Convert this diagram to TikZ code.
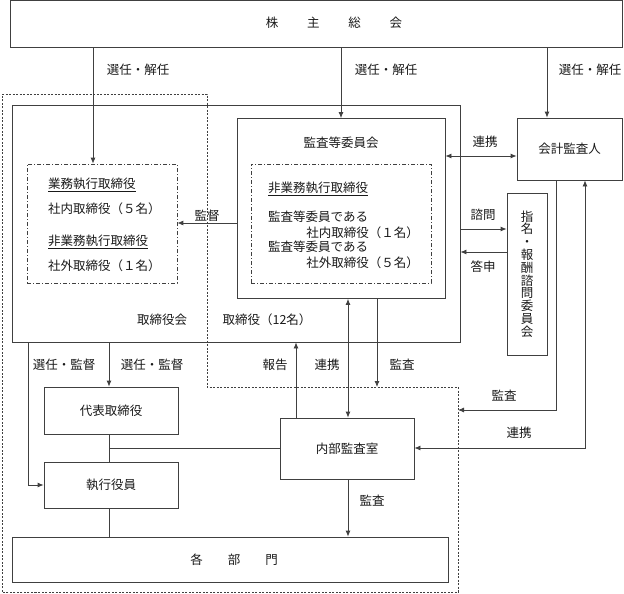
\documentclass[tikz,border=0pt]{standalone}
\usepackage{fontspec}
\setmainfont{Noto Sans CJK JP}
\usetikzlibrary{arrows.meta}
\tikzset{
  ln/.style={line width=0.8pt, draw=black!75},
  box/.style={ln, rectangle, inner sep=0pt, fill=none},
  dbox/.style={line width=0.7pt, draw=black!75, dash pattern=on 4pt off 2pt on 1pt off 2pt, rectangle, inner sep=0pt},
  outer/.style={line width=0.8pt, draw=black!75, dash pattern=on 2pt off 1.5pt},
  arr/.style={ln, -{Latex[length=6pt,width=5pt]}},
  darr/.style={ln, {Latex[length=6pt,width=5pt]}-{Latex[length=6pt,width=5pt]}},
  txt/.style={font=\fontsize{12.5}{14}\selectfont, inner sep=0pt, text=black!90},
  lbl/.style={txt}
}
\begin{document}
\begin{tikzpicture}[x=1pt,y=-1pt]
\useasboundingbox (0,0) rectangle (624,594);
% outer dashed region
\draw[outer] (2,94) -- (207,94) -- (207,387) -- (458,387) -- (458,592) -- (2,592) -- cycle;

% boxes
\node[box, minimum width=612pt, minimum height=47pt] (gm) at (316,23.5) {};
\node[txt] (gmt) at (334,23) {株\hspace{2.3em}主\hspace{2.3em}総\hspace{2.3em}会};
\node[box, minimum width=448pt, minimum height=237pt] (board) at (236,223.5) {};
\node[box, minimum width=208pt, minimum height=180pt] (acb) at (341,208.5) {};
\node[txt] (acbt) at (341,143) {監査等委員会};
\node[dbox, minimum width=180pt, minimum height=119pt] (nedir) at (341,223.5) {};
\node[dbox, minimum width=150pt, minimum height=119pt] (exec) at (102,223.5) {};

\node[txt, anchor=west] (e1) at (48,185) {\underline{業務執行取締役}};
\node[txt, anchor=west] (e2) at (48,209) {社内取締役（５名）};
\node[txt, anchor=west] (e3) at (48,242) {\underline{非業務執行取締役}};
\node[txt, anchor=west] (e4) at (48,266) {社外取締役（１名）};

\node[txt, anchor=west] (n1) at (268,189) {\underline{非業務執行取締役}};
\node[txt, anchor=west] (n2) at (268,217) {監査等委員である};
\node[txt, anchor=east] (n3) at (419,233) {社内取締役（１名）};
\node[txt, anchor=west] (n4) at (268,247) {監査等委員である};
\node[txt, anchor=east] (n5) at (419,263) {社外取締役（５名）};

\node[txt] (bl1) at (162,320) {取締役会};
\node[txt] (bl2) at (267,320) {取締役（12名）};

\node[box, minimum width=105pt, minimum height=62pt] (ext) at (569.5,149) {};
\node[txt] at (ext) {会計監査人};
\node[box, minimum width=40pt, minimum height=162pt] (nom) at (527,274) {};
\node[txt, align=center, font=\fontsize{12.5}{12.8}\selectfont] at (nom) {指\\名\\・\\報\\酬\\諮\\問\\委\\員\\会};

\node[box, minimum width=134pt, minimum height=47pt] (rep) at (111,410.5) {};
\node[txt] at (rep) {代表取締役};
\node[box, minimum width=134pt, minimum height=46pt] (exe) at (111,485) {};
\node[txt] at (exe) {執行役員};
\node[box, minimum width=134pt, minimum height=61pt] (ia) at (347,448.5) {};
\node[txt] at (ia) {内部監査室};
\node[box, minimum width=436pt, minimum height=45pt] (dept) at (230,559.5) {};
\node[txt] (deptt) at (234,559.5) {各\hspace{2em}部\hspace{2em}門};

% helper coordinates
\coordinate (x93) at (93,0);
\coordinate (x547) at (547,0);
\coordinate (x556) at (556,0);
\coordinate (x585) at (585,0);
\coordinate (x296) at (296,0);
\coordinate (x348) at (348,0);
\coordinate (x377) at (377,0);
\coordinate (x109) at (109,0);
\coordinate (x28) at (28,0);
\coordinate (y156) at (0,156);
\coordinate (y223) at (0,223);
\coordinate (y229) at (0,229);
\coordinate (y252) at (0,252);
\coordinate (y448) at (0,448);
\coordinate (y485) at (0,485);
\coordinate (audend) at (458,410);
\coordinate (iaaud) at (377,387);

% connectors
\draw[arr] (x93 |- gm.south) -- (x93 |- exec.north);
\draw[arr] (gm.south -| acb.north) -- (acb.north);
\draw[arr] (x547 |- gm.south) -- (x547 |- ext.north);
\draw[darr] (acb.east |- y156) -- (ext.west |- y156);
\draw[arr] (acb.west |- y223) -- (exec.east |- y223);
\draw[arr] (board.east |- y229) -- (nom.west |- y229);
\draw[arr] (nom.west |- y252) -- (board.east |- y252);
\draw[arr] (x556 |- ext.south) |- (audend);
\draw[darr] (ia.east |- y448) -| (x585 |- ext.south);
\draw[arr] (x296 |- ia.north) -- (x296 |- board.south);
\draw[darr] (x348 |- acb.south) -- (x348 |- ia.north);
\draw[arr] (x377 |- acb.south) -- (iaaud);
\draw[arr] (x348 |- ia.south) -- (x348 |- dept.north);
\draw[arr] (x109 |- board.south) -- (x109 |- rep.north);
\draw[arr] (x28 |- board.south) |- (exe.west |- y485);
\draw[ln] (x109 |- rep.south) -- (x109 |- exe.north);
\draw[ln] (x109 |- y448) -- (ia.west |- y448);
\draw[ln] (x109 |- exe.south) -- (x109 |- dept.north);

% labels
\node[lbl] at (138,70) {選任・解任};
\node[lbl] at (386,70) {選任・解任};
\node[lbl] at (590,70) {選任・解任};
\node[lbl] at (485,142) {連携};
\node[lbl] at (207,216) {監督};
\node[lbl] at (483,215) {諮問};
\node[lbl] at (483,267) {答申};
\node[lbl] at (64,365) {選任・監督};
\node[lbl] at (152,365) {選任・監督};
\node[lbl] at (275,365) {報告};
\node[lbl] at (327,365) {連携};
\node[lbl] at (402,365) {監査};
\node[lbl] at (504,396) {監査};
\node[lbl] at (519,433) {連携};
\node[lbl] at (372,501) {監査};
\end{tikzpicture}
\end{document}
